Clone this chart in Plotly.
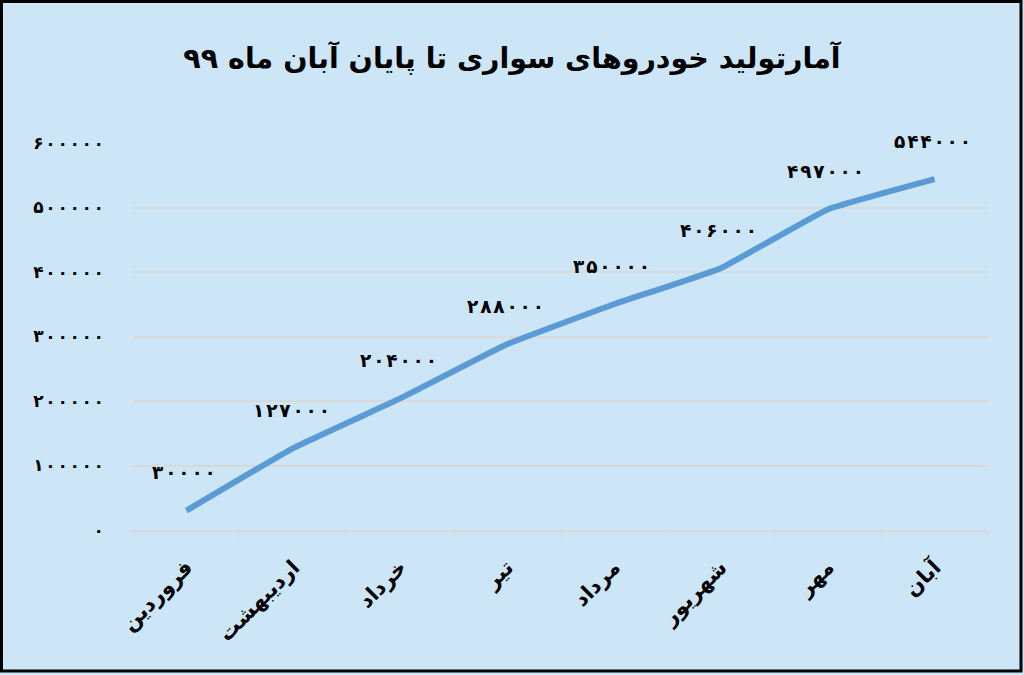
import plotly.graph_objects as go

months = ["فروردین", "اردیبهشت", "خرداد", "تیر", "مرداد", "شهریور", "مهر", "آبان"]
production = [30000, 127000, 204000, 288000, 350000, 406000, 497000, 544000]
y_ticks = [0, 100000, 200000, 300000, 400000, 500000, 600000]
title_text = "آمارتولید خودروهای سواری تا پایان آبان ماه ۹۹"

FA = "۰۱۲۳۴۵۶۷۸۹"
def fa(n, sep=""):
    return sep.join(FA[int(c)] for c in str(n))

W, H = 1024, 675
L, R, T, B = 133, 36, 143, 145
pw, ph = W - L - R, H - T - B
font_main = "DejaVu Sans"

fig = go.Figure()
fig.add_trace(go.Scatter(
    x=months, y=production, mode="lines",
    line=dict(color="#5B9BD5", width=6, shape="spline", smoothing=0.3),
    hoverinfo="skip", showlegend=False,
))

for m, v in zip(months, production):
    fig.add_annotation(
        x=m, y=v, text="<b>" + fa(v, "\u200a") + "</b>", showarrow=False, yshift=38, xshift=-2,
        font=dict(family=font_main, size=18.5, color="#000000"),
    )

fig.update_layout(
    width=W, height=H,
    margin=dict(l=L, r=R, t=T, b=B),
    paper_bgcolor="#CDE6F7", plot_bgcolor="#CDE6F7",
    title=dict(text="<b>" + title_text + "</b>", x=0.5, xanchor="center",
               y=1 - 58 / H, yanchor="middle",
               font=dict(family=font_main, size=28.5, color="#000000")),
    xaxis=dict(
        type="category", range=[-0.5, len(months) - 0.5],
        showgrid=False, showline=True, linecolor="#D9D9D9", linewidth=1.5,
        ticks="outside", tickson="boundaries", ticklen=7, tickcolor="#D9D9D9",
        tickangle=-45, tickfont=dict(family=font_main, size=21, color="#000000"),
        tickvals=months, ticktext=["<b>" + m + "</b>" for m in months],
        ticklabelstandoff=15, automargin=False,
    ),
    yaxis=dict(
        range=[0, 600000], tickvals=y_ticks, ticktext=["<b>" + fa(v, "\u200a") + "</b>" for v in y_ticks],
        showgrid=True, gridcolor="#D9D9D9", gridwidth=1.5, zeroline=False,
        tickfont=dict(family=font_main, size=17, color="#000000"), ticklabelstandoff=28,
        automargin=False,
    ),
)

fig.add_shape(
    type="rect", xref="paper", yref="paper",
    x0=(1.5 - L) / pw, x1=(1021 - L) / pw,
    y0=(H - B - 671) / ph, y1=(H - B - 1.5) / ph,
    line=dict(color="#000000", width=3), fillcolor="rgba(0,0,0,0)", layer="above",
)

fig.write_html("out.html", config={"responsive": False, "displayModeBar": False},
               post_script="document.body.style.margin='0';document.body.style.overflow='hidden';")
